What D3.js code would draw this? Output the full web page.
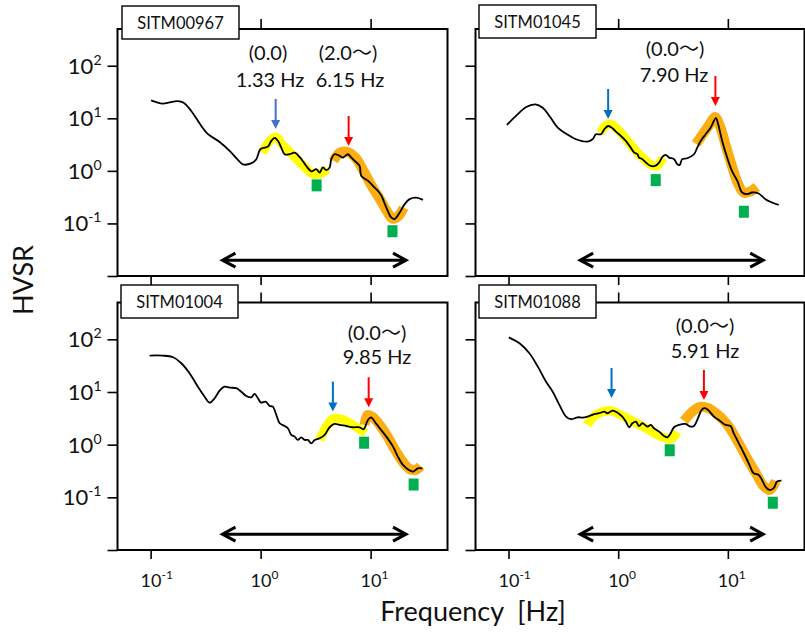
<!DOCTYPE html>
<html><head><meta charset="utf-8">
<script src="https://cdn.jsdelivr.net/npm/d3@7"></script>
<style>body{margin:0;background:#fff}svg{display:block}</style>
</head><body>
<script>
// ---------- DATA ----------
const stations = ["SITM00967", "SITM01045", "SITM01004", "SITM01088"];
const xTicks = [0.1, 1, 10];
const xTickExp = ["-1", "0", "1"];
const yTicks = [0.01, 0.1, 1, 10, 100];
const yLabelTicks = [0.1, 1, 10, 100];
const yTickExp = ["-1", "0", "1", "2"];

// SITM00967
const freq967 = [0.101,0.129,0.176,0.20,0.234,0.289,0.330,0.424,0.523,0.622,0.690,0.828,0.914,0.994,1.087,1.165,1.25,1.34,1.44,1.54,1.65,1.83,2.04,2.26,2.60,2.89,3.21,3.44,3.68,3.95,4.24,4.39,4.71,5.22,5.60,6.22,6.68,7.16,7.94,8.23,9.45,10.5,11.6,12.5,13.9,15.4,16.5,18.4,20.4,22.6,26.0,29.9];
const hvsr967 = [22.0,19.1,21.3,19.8,13.8,7.14,5.04,3.55,2.40,1.62,1.33,1.40,1.67,2.58,2.77,2.89,3.71,4.23,3.71,2.77,2.07,2.07,2.22,1.84,1.24,0.98,1.08,0.93,1.16,1.03,1.16,1.67,2.07,1.93,1.79,2.07,1.79,1.55,1.24,0.80,0.65,0.52,0.42,0.34,0.20,0.13,0.121,0.162,0.233,0.29,0.31,0.28];
const yellowF967 = [1.04,1.21,1.37,1.62,2.04,2.51,2.97,3.44,4.06];
const yellowH967 = [2.20,3.71,4.42,2.98,1.84,1.19,0.877,0.877,1.09];
const orangeF967 = [4.61,5.22,6.18,7.31,8.63,10.2,12.1,14.0,15.8,18.0,19.95];
const orangeH967 = [1.55,2.20,2.29,1.76,1.0,0.52,0.294,0.174,0.123,0.14,0.199];

// SITM01045
const freq1045 = [0.0966,0.117,0.145,0.176,0.205,0.236,0.281,0.335,0.412,0.526,0.584,0.627,0.697,0.746,0.811,0.888,0.953,1.06,1.175,1.30,1.40,1.50,1.55,1.66,1.79,1.98,2.17,2.36,2.53,2.71,2.91,3.23,3.46,3.64,3.84,4.27,4.91,5.26,5.65,6.27,6.96,7.78,8.16,8.88,9.86,10.9,12.2,13.5,15.0,16.6,19.1,22.0,25.3,29.1];
const hvsr1045 = [7.46,11.1,16.4,18.4,15.9,11.1,6.64,5.10,4.0,3.60,4.0,4.97,4.97,6.18,7.14,6.46,5.57,4.61,3.71,2.77,2.22,2.07,1.79,1.67,1.44,1.24,1.24,1.44,1.84,2.01,1.79,1.67,1.34,1.30,1.67,1.74,2.07,2.77,3.71,4.97,6.64,10.1,7.69,3.71,1.79,1.0,0.646,0.388,0.361,0.388,0.371,0.29,0.25,0.226];
const yellowF1045 = [0.686,0.762,0.846,0.979,1.16,1.40,1.72,2.0,2.26,2.57];
const yellowH1045 = [5.26,7.14,7.80,6.27,4.23,2.61,1.69,1.30,1.24,1.76];
const orangeF1045 = [5.12,5.93,6.86,7.62,8.46,9.59,10.9,12.3,14.0,15.8,18.4];
const orangeH1045 = [3.25,5.04,7.80,10.6,7.14,2.98,1.24,0.592,0.383,0.40,0.497];

// SITM01004
const freq1004 = [0.098,0.129,0.160,0.190,0.226,0.269,0.310,0.344,0.382,0.424,0.471,0.523,0.601,0.668,0.741,0.823,0.882,0.945,1.01,1.11,1.21,1.29,1.39,1.49,1.65,1.77,1.90,2.04,2.18,2.34,2.51,2.69,2.89,3.10,3.44,3.82,4.24,4.71,5.22,6.01,6.90,7.94,8.63,9.45,10.1,10.9,12.1,13.9,16.0,17.7,19.7,21.8,24.3,26.9,29.5];
const hvsr1004 = [49.0,49.0,45.6,35.1,22.7,12.6,8.15,6.27,7.6,10.6,12.6,12.1,11.8,10.1,8.41,7.94,9.18,7.6,6.27,6.55,5.43,5.27,3.66,2.55,2.26,2.05,1.53,1.42,1.23,1.38,1.23,1.23,1.06,1.23,1.32,1.53,2.14,2.47,2.37,2.26,2.14,2.14,1.96,2.94,3.31,2.73,2.05,1.42,0.916,0.592,0.412,0.341,0.307,0.356,0.356];
const yellowF1004 = [3.44,3.90,4.51,5.34,6.44,7.62,9.01];
const yellowH1004 = [1.23,2.08,3.08,3.08,2.58,2.08,1.67];
const orangeF1004 = [8.82,9.39,10.4,12.1,14.3,16.9,19.95,22.6,25.7,28.5];
const orangeH1004 = [2.37,3.66,3.36,2.37,1.40,0.759,0.449,0.346,0.331,0.394];

// SITM01088
const freq1088 = [0.1006,0.126,0.155,0.185,0.220,0.253,0.291,0.335,0.372,0.427,0.473,0.526,0.605,0.672,0.746,0.80,0.888,0.986,1.09,1.175,1.26,1.35,1.45,1.55,1.66,1.85,1.98,2.12,2.36,2.62,2.81,3.01,3.23,3.59,4.12,4.58,4.91,5.26,5.84,6.27,6.82,7.46,8.28,9.53,10.6,11.3,12.6,14.0,15.5,17.2,19.1,20.5,22.0,23.9,26.2,28.1,30.8];
const hvsr1088 = [109,84.1,54.3,30.3,15.7,10.1,5.68,3.40,3.04,3.31,3.26,3.40,3.78,3.95,4.24,3.95,4.42,4.05,3.40,2.73,2.14,2.55,2.73,2.26,2.55,2.20,2.37,2.05,1.77,1.46,1.38,1.65,2.14,2.37,2.47,2.20,2.26,2.94,4.70,4.91,4.24,3.40,2.94,2.37,2.26,1.65,1.06,0.687,0.443,0.286,0.266,0.214,0.16,0.138,0.149,0.199,0.207];
const yellowF1088 = [0.523,0.605,0.716,0.864,1.06,1.40,1.91,2.51,3.03,3.44];
const yellowH1088 = [2.37,3.51,4.18,4.36,3.66,2.70,1.90,1.40,1.28,1.74];
const orangeF1088 = [3.98,4.71,5.56,6.58,7.94,9.79,12.1,14.9,18.4,21.2,24.1,27.3];
const orangeH1088 = [2.82,4.18,5.20,4.98,3.83,2.47,1.23,0.559,0.266,0.164,0.138,0.205];

// annotations
const topNotes = [["(0.0)", "(2.0\u301C)"], ["(0.0\u301C)"], ["(0.0\u301C)"], ["(0.0\u301C)"]];
const freqNotes = [["1.33 Hz", "6.15 Hz"], ["7.90 Hz"], ["9.85 Hz"], ["5.91 Hz"]];
const blueArrowF = [1.37, 0.81, 4.54, 0.87];
const blueArrowH = [6.27, 9.7, 4.24, 7.7];
const redArrowF = [6.31, 7.7, 9.6, 6.05];
const redArrowH = [2.98, 17.1, 5.13, 7.06];
const troughF = [[3.23, 15.8], [2.20, 14.0], [8.73, 24.6], [2.95, 25.7]];
const troughH = [[0.53, 0.071], [0.667, 0.167], [1.09, 0.175], [0.783, 0.079]];
const rangeF = [0.45, 21];
const rangeH = 0.02;

const curves = [
  {f: freq967, h: hvsr967, yf: yellowF967, yh: yellowH967, of: orangeF967, oh: orangeH967},
  {f: freq1045, h: hvsr1045, yf: yellowF1045, yh: yellowH1045, of: orangeF1045, oh: orangeH1045},
  {f: freq1004, h: hvsr1004, yf: yellowF1004, yh: yellowH1004, of: orangeF1004, oh: orangeH1004},
  {f: freq1088, h: hvsr1088, yf: yellowF1088, yh: yellowH1088, of: orangeF1088, oh: orangeH1088}
];

// ---------- LAYOUT ----------
const layout = [
  {x0: 117.5, x1: 447.5, y0: 29, y1: 276, yLabels: true, xLabels: false,
   box: [122, 6], notes: [[268, 60, 270, 87], [348, 60, 350, 87]], blue: "#4472c4"},
  {x0: 475.5, x1: 804.5, y0: 29, y1: 276, yLabels: false, xLabels: false,
   box: [479, 5], notes: [[675, 56, 674, 82]], blue: "#0070c0"},
  {x0: 117.5, x1: 447.5, y0: 302.5, y1: 550, yLabels: true, xLabels: true,
   box: [121, 285], notes: [[377, 340, 377, 364]], blue: "#0070c0"},
  {x0: 475.5, x1: 804.5, y0: 302.5, y1: 550, yLabels: false, xLabels: true,
   box: [479, 285], notes: [[705, 333, 705, 358]], blue: "#0070c0"}
];
const FONT = "Lato, 'Noto Sans CJK JP', sans-serif";

const svg = d3.select("body").append("svg").attr("width", 805).attr("height", 639)
  .style("font-family", FONT);

layout.forEach((L, i) => {
  const x = d3.scaleLog().domain([0.05, 50]).range([L.x0, L.x1]);
  const y = d3.scaleLog().domain([0.01, 500]).range([L.y1, L.y0]);
  const g = svg.append("g");
  const c = curves[i];

  // axes ticks
  const axB = g.append("g").attr("transform", `translate(0,${L.y1})`)
    .call(d3.axisBottom(x).tickValues(xTicks).tickSize(9).tickFormat(""));
  const axT = g.append("g").attr("transform", `translate(0,${L.y0})`)
    .call(d3.axisTop(x).tickValues(xTicks).tickSize(10).tickFormat(""));
  const axL = g.append("g").attr("transform", `translate(${L.x0},0)`)
    .call(d3.axisLeft(y).tickValues(yTicks).tickSize(10).tickFormat(""));
  [axB, axT, axL].forEach(a => {
    a.select(".domain").remove();
    a.selectAll("line").attr("stroke", "#000").attr("stroke-width", 1.6);
  });

  // frame
  g.append("rect").attr("x", L.x0).attr("y", L.y0)
    .attr("width", L.x1 - L.x0).attr("height", L.y1 - L.y0)
    .attr("fill", "none").attr("stroke", "#000").attr("stroke-width", 2);

  // y labels
  if (L.yLabels) {
    yLabelTicks.forEach((v, k) => {
      const t = g.append("text").attr("x", L.x0 - 16).attr("y", y(v) + 8)
        .attr("text-anchor", "end").attr("font-size", 22).attr("fill", "#111");
      t.append("tspan").text("10");
      t.append("tspan").attr("dy", -9).attr("font-size", 14).text(yTickExp[k]);
    });
  }
  if (L.xLabels) {
    xTicks.forEach((v, k) => {
      const t = g.append("text").attr("x", x(v) - 10).attr("y", L.y1 + 37)
        .attr("font-size", 18).attr("fill", "#111");
      t.append("tspan").text("10");
      t.append("tspan").attr("dy", -8).attr("font-size", 12).text(xTickExp[k]);
    });
  }

  // highlight bands
  const line = d3.line().x(d => x(d[0])).y(d => y(d[1])).curve(d3.curveCatmullRom.alpha(0.5));
  g.append("path").attr("d", line(d3.zip(c.yf, c.yh)))
    .attr("fill", "none").attr("stroke", "#ffff00").attr("stroke-width", 9);
  g.append("path").attr("d", line(d3.zip(c.of, c.oh)))
    .attr("fill", "none").attr("stroke", "#fbad12").attr("stroke-width", 10);
  // HVSR curve
  g.append("path").attr("d", line(d3.zip(c.f, c.h)))
    .attr("fill", "none").attr("stroke", "#000").attr("stroke-width", 1.8)
    .attr("stroke-linejoin", "round");

  // trough markers
  troughF[i].forEach((f, k) => {
    g.append("rect").attr("x", x(f) - 5).attr("y", y(troughH[i][k]) - 6)
      .attr("width", 10).attr("height", 12).attr("fill", "#00b050");
  });

  // peak arrows
  function arrow(fx, hv, col) {
    const ax = x(fx), ay = y(hv);
    g.append("line").attr("x1", ax).attr("x2", ax).attr("y1", ay - 30).attr("y2", ay - 7)
      .attr("stroke", col).attr("stroke-width", 2);
    g.append("path").attr("d", `M${ax - 4.5},${ay - 9}L${ax + 4.5},${ay - 9}L${ax},${ay}Z`).attr("fill", col);
  }
  arrow(blueArrowF[i], blueArrowH[i], L.blue);
  arrow(redArrowF[i], redArrowH[i], "#ff0000");

  // frequency range double arrow
  const ra = x(rangeF[0]), rb = x(rangeF[1]), ry = y(rangeH);
  g.append("line").attr("x1", ra + 1).attr("x2", rb - 1).attr("y1", ry).attr("y2", ry)
    .attr("stroke", "#000").attr("stroke-width", 3);
  g.append("path").attr("d", `M${ra + 13},${ry - 7}L${ra},${ry}L${ra + 13},${ry + 7}`)
    .attr("fill", "none").attr("stroke", "#000").attr("stroke-width", 3);
  g.append("path").attr("d", `M${rb - 13},${ry - 7}L${rb},${ry}L${rb - 13},${ry + 7}`)
    .attr("fill", "none").attr("stroke", "#000").attr("stroke-width", 3);

  // annotations
  L.notes.forEach((n, k) => {
    g.append("text").attr("x", n[0]).attr("y", n[1]).attr("text-anchor", "middle")
      .attr("font-size", 20).attr("fill", "#111").text(topNotes[i][k]);
    g.append("text").attr("x", n[2]).attr("y", n[3]).attr("text-anchor", "middle")
      .attr("font-size", 20).attr("fill", "#111").text(freqNotes[i][k]);
  });

  // station label box
  g.append("rect").attr("x", L.box[0]).attr("y", L.box[1]).attr("width", 117).attr("height", 33)
    .attr("fill", "#fff").attr("stroke", "#000").attr("stroke-width", 1.4);
  g.append("text").attr("x", L.box[0] + 58.5).attr("y", L.box[1] + 23).attr("text-anchor", "middle")
    .attr("font-size", 16.5).attr("fill", "#111").text(stations[i]);
});

// axis titles
svg.append("text").attr("transform", "translate(33,280) rotate(-90)")
  .attr("text-anchor", "middle").attr("font-size", 27).attr("fill", "#111").text("HVSR");
svg.append("text").attr("x", 473).attr("y", 621).attr("text-anchor", "middle")
  .attr("font-size", 27).attr("fill", "#111").attr("xml:space", "preserve").style("white-space", "pre")
  .text("Frequency  [Hz]");
</script>
</body></html>
